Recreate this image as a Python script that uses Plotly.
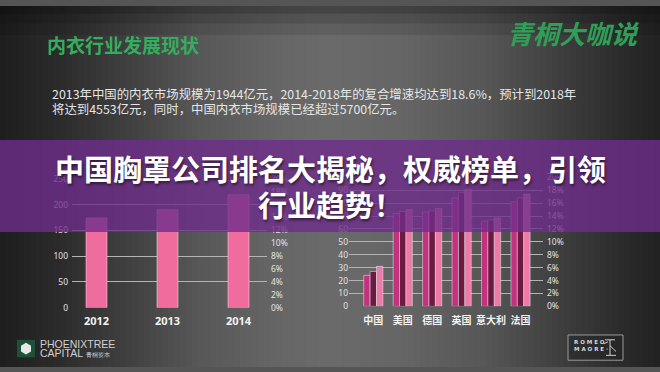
import numpy as np
import plotly.graph_objects as go

# ---------------- data ----------------
years = ["2012", "2013", "2014"]
market_size = [174, 190, 219]

countries = ["中国", "美国", "德国", "英国", "意大利", "法国"]
series_a = [24, 72, 73, 84, 66, 81]
series_b = [27, 73.5, 74, 88, 67, 84]
series_c = [31, 75, 76, 90.5, 68.5, 87]

left_ticks = [0, 50, 100, 150, 200, 250]
right_ticks = [0, 10, 20, 30, 40, 50, 60, 70, 80, 90, 100]
pct_ticks = [0, 0.02, 0.04, 0.06, 0.08, 0.10, 0.12, 0.14, 0.16, 0.18, 0.20]

heading = "内衣行业发展现状"
brand = "青桐大咖说"
para1 = "2013年中国的内衣市场规模为1944亿元，2014-2018年的复合增速均达到18.6%，预计到2018年"
para2 = "将达到4553亿元，同时，中国内衣市场规模已经超过5700亿元。"
title1 = "中国胸罩公司排名大揭秘，权威榜单，引领"
title2 = "行业趋势！"

W, H = 660, 372
def X(px):
    return px / W
def Y(py):
    return 1 - py / H

CJK = "Noto Sans CJK SC"

fig = go.Figure()

# left chart bars
fig.add_trace(go.Bar(x=years, y=market_size, marker_color="#ef6c9d",
                     width=0.296, offset=-0.148, xaxis="x", yaxis="y",
                     showlegend=False, hoverinfo="skip"))
# dummy trace for secondary pct axis (left chart)
fig.add_trace(go.Scatter(x=years, y=[None] * 3, xaxis="x", yaxis="y2",
                         showlegend=False, hoverinfo="skip"))

# right chart grouped bars
colors = ["#c4327f", "#6c1b40", "#f07aa7"]
for i, (s, c) in enumerate(zip([series_a, series_b, series_c], colors)):
    fig.add_trace(go.Bar(x=countries, y=s, marker_color=c, width=0.217,
                         offset=-0.325 + i * 0.217, xaxis="x2", yaxis="y3",
                         showlegend=False, hoverinfo="skip"))
fig.add_trace(go.Scatter(x=countries, y=[None] * 6, xaxis="x2", yaxis="y4",
                         showlegend=False, hoverinfo="skip"))

shapes = []
# background horizontal gradient (stripes)
kx = [0, 60, 120, 200, 280, 330, 400, 480, 560, 620, 660]
kg = [30, 44, 62, 88, 103, 107, 102, 88, 63, 44, 34]
step = 6
for x0 in range(0, W, step):
    g = int(np.interp(x0 + step / 2, kx, kg))
    shapes.append(dict(type="rect", xref="paper", yref="paper",
                       x0=X(x0), x1=X(min(x0 + step + 0.5, W)), y0=0, y1=1,
                       fillcolor=f"rgb({g},{g},{g})", line_width=0, layer="below"))
# darker top edge
for (a, b, o) in [(0, 8, 0.35), (8, 18, 0.22), (18, 30, 0.1)]:
    shapes.append(dict(type="rect", xref="paper", yref="paper", x0=0, x1=1,
                       y0=Y(b), y1=Y(a), fillcolor=f"rgba(0,0,0,{o})",
                       line_width=0, layer="below"))
# purple banner
shapes.append(dict(type="rect", xref="paper", yref="paper", x0=0, x1=1,
                   y0=Y(233), y1=Y(138), fillcolor="rgba(111,45,139,0.8)",
                   line_width=0, layer="above"))
# bottom-left logo icon
shapes.append(dict(type="rect", xref="paper", yref="paper", x0=X(17), x1=X(35),
                   y0=Y(362), y1=Y(344), fillcolor="#1d5236", line_width=0,
                   layer="above"))
hx = [26, 31, 31, 26, 21, 21]
hy = [347, 350, 356, 359, 356, 350]
path = "M " + " L ".join(f"{X(a)},{Y(b)}" for a, b in zip(hx, hy)) + " Z"
shapes.append(dict(type="path", xref="paper", yref="paper", path=path,
                   fillcolor="#e8e8e8", line_width=0, layer="above"))
# bottom-right logo box
shapes.append(dict(type="rect", xref="paper", yref="paper", x0=X(568), x1=X(623),
                   y0=Y(365), y1=Y(339), fillcolor="rgba(30,30,30,0.35)",
                   line=dict(color="#9a9a9a", width=1), layer="above"))
for (a, b, c, d) in [(610, 344, 610, 360), (605, 344, 615, 344), (606, 360, 616, 360),
                     (610, 350, 616, 356), (604, 348, 608, 346)]:
    shapes.append(dict(type="line", xref="paper", yref="paper", x0=X(a), y0=Y(b),
                       x1=X(c), y1=Y(d), line=dict(color="#cfcfcf", width=1),
                       layer="above"))

shadow = "1px 2px 3px rgba(0,0,0,0.55)"
annotations = [
    dict(text=heading, x=X(45), y=Y(40), xanchor="left", yanchor="middle",
         font=dict(family=CJK, size=19, color="#34ad5e", weight="bold")),
    dict(text=brand, x=X(642), y=Y(27), xanchor="right", yanchor="middle",
         font=dict(family=CJK, size=26, color="#2f9f58", weight="bold", style="italic")),
    dict(text=para1, x=X(50), y=Y(91), xanchor="left", yanchor="middle",
         font=dict(family=CJK, size=12.4, color="#e6e6e6")),
    dict(text=para2, x=X(50), y=Y(106), xanchor="left", yanchor="middle",
         font=dict(family=CJK, size=12.4, color="#e6e6e6")),
    dict(text=title1, x=0.5, y=Y(167), xanchor="center", yanchor="middle",
         font=dict(family=CJK, size=29, color="#ffffff", weight="bold", shadow=shadow)),
    dict(text=title2, x=0.5, y=Y(204), xanchor="center", yanchor="middle",
         font=dict(family=CJK, size=29, color="#ffffff", weight="bold", shadow=shadow)),
    dict(text="PHOENIXTREE", x=X(38), y=Y(348), xanchor="left", yanchor="middle",
         font=dict(family="Liberation Sans", size=10.5, color="#d0d0d0")),
    dict(text="CAPITAL <span style='font-size:6px'>青桐资本</span>", x=X(38), y=Y(358),
         xanchor="left", yanchor="middle",
         font=dict(family="Liberation Sans", size=10.5, color="#d0d0d0")),
    dict(text="R O M E O", x=X(572), y=Y(346), xanchor="left", yanchor="middle",
         font=dict(family="DejaVu Sans", size=5.5, color="#d8d8d8", weight="bold")),
    dict(text="M A O R E ·", x=X(572), y=Y(353), xanchor="left", yanchor="middle",
         font=dict(family="DejaVu Sans", size=5.5, color="#d8d8d8", weight="bold")),
]
for a in annotations:
    a.update(xref="paper", yref="paper", showarrow=False)

tickfont = dict(family="Noto Sans", size=8.5, color="#e2e2e2")
grid = "#b4b4b4"

fig.update_layout(
    width=W, height=H,
    margin=dict(l=0, r=0, t=0, b=0),
    paper_bgcolor="#555555",
    plot_bgcolor="rgba(0,0,0,0)",
    shapes=shapes,
    annotations=annotations,
    xaxis=dict(domain=[X(72), X(267)], range=[-0.345, 2.401], type="category",
               showgrid=False, zeroline=False, showline=False, ticks="",
               ticklabelstandoff=5,
               tickfont=dict(family="Noto Sans", size=11, color="#f2f2f2", weight="bold"),
               anchor="y"),
    yaxis=dict(domain=[Y(311), Y(178)], range=[0, 250], tickvals=left_ticks,
               showgrid=True, gridcolor=grid, gridwidth=1, zeroline=False,
               showline=False, ticks="", tickfont=tickfont, anchor="x",
               ticklabelstandoff=3),
    yaxis2=dict(overlaying="y", side="right", range=[0, 0.2], tickvals=pct_ticks,
                tickformat=".0%", showgrid=False, zeroline=False, showline=False,
                ticks="", tickfont=tickfont, anchor="x", ticklabelstandoff=3),
    xaxis2=dict(domain=[X(349), X(543)], range=[-0.825, 5.764], type="category",
                showgrid=False, zeroline=False, showline=False, ticks="",
                ticklabelstandoff=7,
                tickfont=dict(family=CJK, size=10, color="#f2f2f2", weight="bold"),
                anchor="y3"),
    yaxis3=dict(domain=[Y(309.5), Y(176.5)], range=[0, 100], tickvals=right_ticks,
                showgrid=True, gridcolor=grid, gridwidth=1, zeroline=False,
                showline=False, ticks="", tickfont=tickfont, anchor="x2"),
    yaxis4=dict(overlaying="y3", side="right", range=[0, 0.2], tickvals=pct_ticks,
                tickformat=".0%", showgrid=False, zeroline=False, showline=False,
                ticks="", tickfont=tickfont, anchor="x2", ticklabelstandoff=3),
    barmode="overlay",
)

fig.write_html(
    "out.html",
    config={"displayModeBar": False},
    post_script="document.body.style.margin='0';document.body.style.overflow='hidden';",
)
